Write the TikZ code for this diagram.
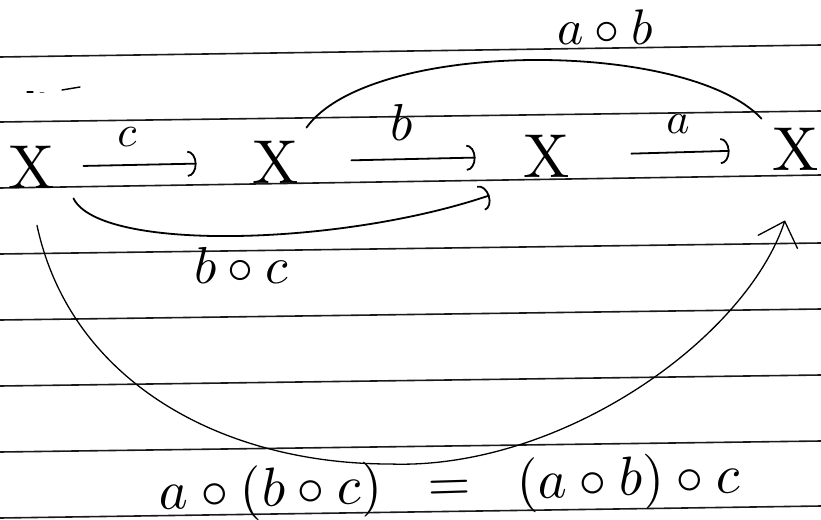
\documentclass[tikz,border=0pt]{standalone}
\usepackage{graphicx}
\usetikzlibrary{arrows.meta}
\begin{document}
\begin{tikzpicture}[x=1pt,y=-1pt,
  rule/.style={line width=1.6pt, black!90},
  stroke/.style={line width=1.8pt, line cap=round},
  hookarrow/.style={stroke, -{Arc Barb[length=9pt,width=26pt,line width=1.8pt]}},
  bigarrow/.style={line width=1.3pt, line cap=round, -{Straight Barb[length=22pt,width=42pt,line width=1.3pt]}},
  xnode/.style={inner sep=0pt},
  lab/.style={inner sep=0pt, anchor=base}
]
\useasboundingbox[fill=white] (0,0) rectangle (821,519);

% ruled paper lines
\foreach \yl/\yr in {57/45,122/111,188/175,254/243,320/309,386/375,452/441,518/506}
  \draw[rule] (0,\yl) -- (821,\yr);

% stray pen mark
\draw[line width=1.2pt, line cap=round] (27,92) -- (33,92);
\draw[line width=0.8pt, line cap=round, black!60] (40,92) -- (44,92);
\draw[line width=1.4pt, line cap=round] (62,90) -- (80,87);

% objects
\node[xnode] (X1) at (32,167) {\scalebox{6.2}{X}};
\node[xnode] (X2) at (276,162) {\scalebox{6.2}{X}};
\node[xnode] (X3) at (547,156) {\scalebox{6.2}{X}};
\node[xnode] (X4) at (796,149) {\scalebox{6.2}{X}};

% straight arrows
\draw[hookarrow, shorten <=28pt, shorten >=56pt] (X1) -- (X2);
\draw[hookarrow, shorten <=52pt, shorten >=48pt] (X2) -- (X3);
\draw[hookarrow, shorten <=61pt, shorten >=43pt] (X3) -- (X4);

\node[lab] (lc) at (127,146) {\scalebox{4.4}{$c$}};
\node[lab] (lb) at (402,140) {\scalebox{5.2}{$b$}};
\node[lab] (la) at (678,133) {\scalebox{4.4}{$a$}};

% a o b arc (X2 -> X4)
\draw[stroke] ([shift={(7,-13)}]X2.north east)
  .. controls (370,39) and (687,39) .. ([shift={(-11,-9)}]X4.north west);
\node[lab] (lab) at (605,45) {\scalebox{5}{$a\circ b$}};

% b o c arc (X1 -> X3)
\draw[hookarrow] ([shift={(18,10)}]X1.south east)
  .. controls (100,252) and (340,246) .. ([shift={(-34,18)}]X3.south west);
\node[lab] (lbc) at (241,283) {\scalebox{5.2}{$b\circ c$}};

% big arc (X1 -> X4)
\draw[bigarrow] ([shift={(5,37)}]X1.south)
  .. controls (70,380) and (220,464) .. (390,464)
  .. controls (560,470) and (745,340) .. ([shift={(-11,50)}]X4.south);

% equation
\node[lab, rotate=1.7] (eq) at (450,501)
  {\scalebox{5.5}{$a\circ(b\circ c)\;\;=\;\;(a\circ b)\circ c$}};
\end{tikzpicture}
\end{document}
